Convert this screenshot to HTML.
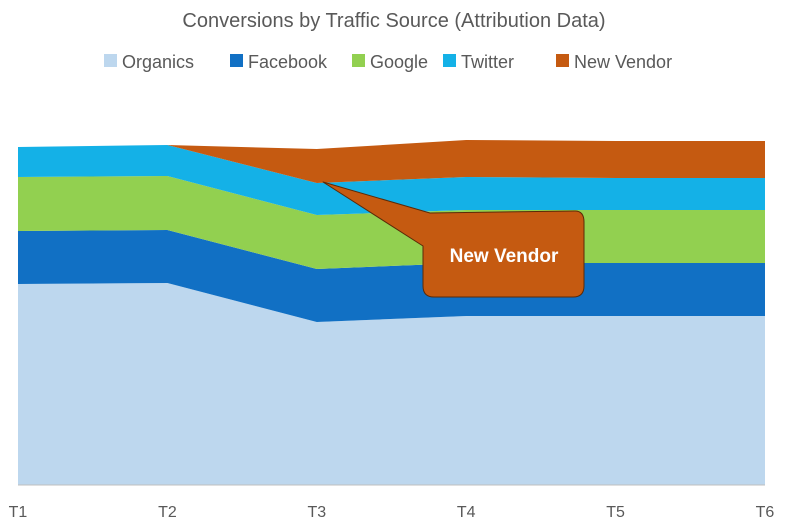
<!DOCTYPE html>
<html><head><meta charset="utf-8"><style>
body{margin:0;background:#fff;font-family:"Liberation Sans",sans-serif;}
svg{display:block}
</style></head><body>
<svg id="chart" width="789" height="528">
<text x="394" y="27" text-anchor="middle" font-size="20" fill="#595959">Conversions by Traffic Source (Attribution Data)</text>
<g id="legend"></g>
<g id="areas"></g>
<line x1="18" y1="485" x2="765" y2="485" stroke="#bfbfbf"/>
<g id="xticks"></g>
<g>
<path d="M323,182 L430,213 L575,211 Q584,211 584,222 L584,286 Q584,297 573,297 L434,297 Q423,297 423,286 L423,246 Z" fill="#c55a11" stroke="#5a2a08" stroke-width="1" stroke-linejoin="round"/>
<text x="504" y="262" text-anchor="middle" font-size="19" font-weight="bold" fill="#fff">New Vendor</text>
</g>
</svg>
<script>
const categories=["T1","T2","T3","T4","T5","T6"];
const seriesNames=["Organics","Facebook","Google","Twitter","New Vendor"];
const organics=[201,202,163,169,169,169];
const facebook=[53,53,53,53,53,53];
const google=[54,54,54,53,53,53];
const twitter=[30,31,32,33,32,32];
const newVendor=[0,0,34,37,37,37];
const colors=["#bdd7ee","#1170c4","#92d050","#14b1e7","#c55a11"];
const NS="http://www.w3.org/2000/svg";
const x0=18,x1=765,yBase=485,yMax=340,yTop=145;
function xScale(i){return x0+i*(x1-x0)/(categories.length-1);}
function yScale(v){return yBase-v*(yBase-yTop)/yMax;}
const series=[organics,facebook,google,twitter,newVendor];
const areas=document.getElementById('areas');
let cum=categories.map(()=>0);
series.forEach((s,k)=>{
  const lo=cum.slice();const hi=cum.map((c,i)=>c+s[i]);
  let d="";
  hi.forEach((v,i)=>{d+=(i?"L":"M")+xScale(i)+","+yScale(v);});
  for(let i=lo.length-1;i>=0;i--)d+="L"+xScale(i)+","+yScale(lo[i]);
  const p=document.createElementNS(NS,'path');
  p.setAttribute('d',d+"Z");p.setAttribute('fill',colors[k]);
  
  
  areas.appendChild(p);cum=hi;
});
const xt=document.getElementById('xticks');
categories.forEach((c,i)=>{
  const t=document.createElementNS(NS,'text');
  t.setAttribute('x',xScale(i));t.setAttribute('y',517);
  t.setAttribute('text-anchor','middle');t.setAttribute('font-size','16');t.setAttribute('fill','#595959');
  t.textContent=c;
  
  
  xt.appendChild(t);
});
const lg=document.getElementById('legend');
const lx=[104,230,352,443,556];
seriesNames.forEach((n,k)=>{
  const g=document.createElementNS(NS,'g');
  
  
  const r=document.createElementNS(NS,'rect');
  r.setAttribute('x',lx[k]);r.setAttribute('y',54);r.setAttribute('width',13);r.setAttribute('height',13);r.setAttribute('fill',colors[k]);
  const t=document.createElementNS(NS,'text');
  t.setAttribute('x',lx[k]+18);t.setAttribute('y',68);t.setAttribute('font-size','18');t.setAttribute('fill','#595959');
  t.textContent=n;
  g.appendChild(r);g.appendChild(t);lg.appendChild(g);
});
</script>
</body></html>
